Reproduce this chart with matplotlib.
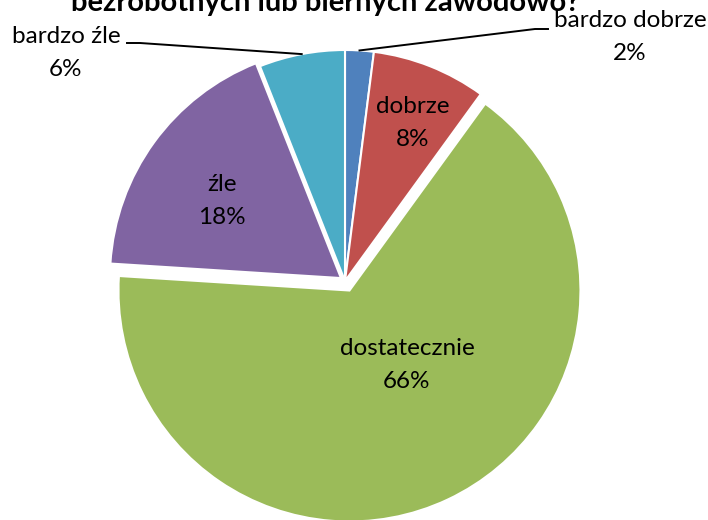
import numpy as np
import matplotlib
matplotlib.use('Agg')
import matplotlib.pyplot as plt

# dane z wykresu
categories = ['bardzo dobrze', 'dobrze', 'dostatecznie', 'źle', 'bardzo źle']
values = [2, 8, 66, 18, 6]
colors = ['#4F81BD', '#C0504D', '#9BBB59', '#8064A2', '#4BACC6']
explode = [0, 0, 10.5, 5, 0]  # w pikselach
title = 'bezrobotnych lub biernych zawodowo?'

W, H = 708, 520
plt.rcParams['font.family'] = ['Lato', 'DejaVu Sans']

fig = plt.figure(figsize=(W / 100, H / 100), dpi=100)
ax = fig.add_axes([0, 0, 1, 1])

cx, cy, R = 345, 281, 231  # środek i promień w pikselach (y od góry)

wedges, _ = ax.pie(values, colors=colors, explode=explode, startangle=90,
                   counterclock=False, center=(cx, H - cy), radius=R,
                   wedgeprops=dict(edgecolor='white', linewidth=1.5))
ax.set_xlim(0, W)
ax.set_ylim(0, H)
ax.set_aspect('equal')
ax.axis('off')

fs = 17.5
ls = 1.7


def anchor(w):
    ang = np.deg2rad((w.theta1 + w.theta2) / 2)
    x0, y0 = w.center
    return x0 + w.r * np.cos(ang), y0 + w.r * np.sin(ang)


# etykiety wewnątrz wycinków
inner = {1: (413, 123), 2: (407, 365), 3: (222, 201)}
for i, (x, y) in inner.items():
    ax.text(x, H - y, '%s\n%d%%' % (categories[i], values[i]), ha='center',
            va='center', fontsize=fs, linespacing=ls)

# etykiety z liniami odniesienia
ax0, ay0 = anchor(wedges[0])
ax.plot([ax0, 535, 548], [ay0, H - 29, H - 29], color='black', lw=1.4)
ax.text(630, H - 37, '%s\n%d%%' % (categories[0], values[0]), ha='center',
        va='center', fontsize=fs, linespacing=ls)

ax4, ay4 = anchor(wedges[4])
ax.plot([ax4, 140, 127], [ay4, H - 43, H - 43], color='black', lw=1.4)
ax.text(66, H - 53, '%s\n%d%%' % (categories[4], values[4]), ha='center',
        va='center', fontsize=fs, linespacing=ls)

# tytuł (ucięty u góry, jak w oryginale)
ax.text(325, H - 11, title, ha='center', va='baseline', fontsize=21,
        fontweight='bold')

fig.savefig('out.png', dpi=100)
